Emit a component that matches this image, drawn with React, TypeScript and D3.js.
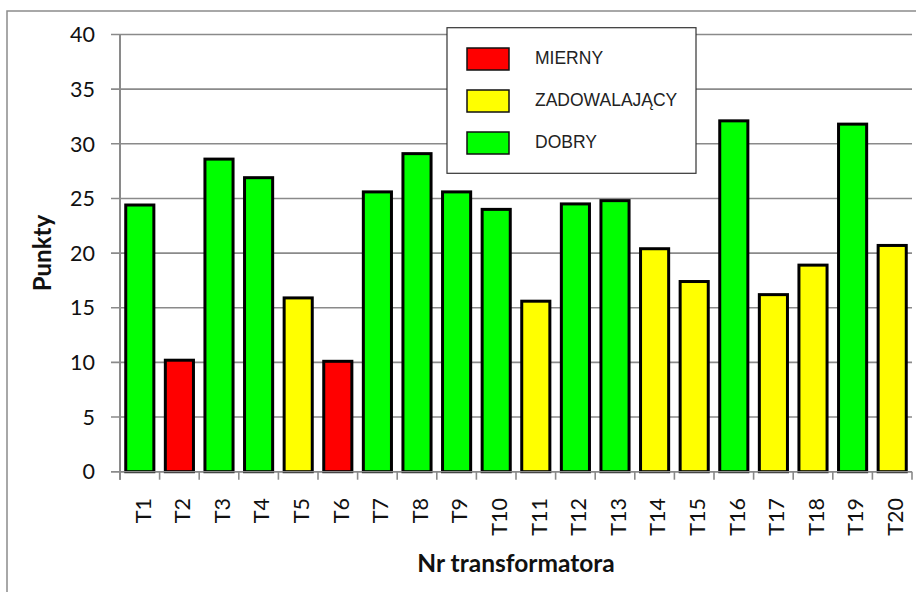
import React from "react";
import * as d3 from "d3";

// Transformer condition scores
const categories = ["T1","T2","T3","T4","T5","T6","T7","T8","T9","T10","T11","T12","T13","T14","T15","T16","T17","T18","T19","T20"];
const scores = [24.4, 10.2, 28.6, 26.9, 15.9, 10.1, 25.6, 29.1, 25.6, 24.0, 15.6, 24.5, 24.8, 20.4, 17.4, 32.1, 16.2, 18.9, 31.8, 20.7];
const grades = ["D","M","D","D","Z","M","D","D","D","D","Z","D","D","Z","Z","D","Z","Z","D","Z"];
const gradeKeys = ["M", "Z", "D"];
const gradeLabels = ["MIERNY", "ZADOWALAJĄCY", "DOBRY"];
const gradeColors = ["#ff0000", "#ffff00", "#00ff00"];
const yTicks = [0, 5, 10, 15, 20, 25, 30, 35, 40];

const W = 916;
const H = 592;
const plot = { left: 120, right: 912, top: 34.5, bottom: 471.7 };

export default function App() {
  const x = d3.scaleBand<string>().domain(categories).range([plot.left, plot.right]).padding(0);
  const y = d3.scaleLinear().domain([0, 40]).range([plot.bottom, plot.top]);
  const color = d3.scaleOrdinal<string, string>().domain(gradeKeys).range(gradeColors);
  const barW = x.bandwidth() * 0.71;
  const tickFont = "Lato, 'Open Sans', sans-serif";

  return (
    <svg width={W} height={H} style={{ position: "absolute", left: 0, top: 0, background: "#fff" }}>
      <rect x={0} y={0} width={W} height={H} fill="#fff" />
      {/* chart frame */}
      <rect x={7} y={11} width={W + 20} height={H + 20} fill="none" stroke="#8c8c8c" strokeWidth={1.5} />

      {/* gridlines and y ticks */}
      {yTicks.map((t) => (
        <g key={t}>
          <line x1={plot.left - 9} x2={plot.right} y1={y(t)} y2={y(t)} stroke="#8a8a8a" strokeWidth={1.6} />
          <text x={95} y={y(t)} dy="0.36em" textAnchor="end" fontFamily={tickFont} fontSize={21.5} fill="#111">
            {t}
          </text>
        </g>
      ))}

      {/* category ticks */}
      {categories.map((c) => (
        <line key={c} x1={x(c)!} x2={x(c)!} y1={plot.bottom} y2={plot.bottom + 8} stroke="#8a8a8a" strokeWidth={1.6} />
      ))}
      <line x1={plot.right} x2={plot.right} y1={plot.bottom} y2={plot.bottom + 8} stroke="#8a8a8a" strokeWidth={1.6} />

      {/* bars */}
      {categories.map((c, i) => {
        const cx = x(c)! + x.bandwidth() / 2;
        return (
          <rect
            key={c}
            x={cx - barW / 2}
            y={y(scores[i])}
            width={barW}
            height={y(0) - y(scores[i])}
            fill={color(grades[i])}
            stroke="#000"
            strokeWidth={3}
          />
        );
      })}

      {/* axes */}
      <line x1={plot.left} x2={plot.left} y1={plot.top} y2={plot.bottom + 8} stroke="#8a8a8a" strokeWidth={2} />
      <line x1={plot.left - 9} x2={plot.right} y1={plot.bottom} y2={plot.bottom} stroke="#8a8a8a" strokeWidth={1.6} />

      {/* x tick labels */}
      {categories.map((c) => {
        const cx = x(c)! + x.bandwidth() / 2 + 3;
        return (
          <text
            key={c}
            transform={`translate(${cx},498) rotate(-90)`}
            dy="0.36em"
            textAnchor="end"
            fontFamily={tickFont}
            fontSize={21.5}
            fill="#111"
          >
            {c}
          </text>
        );
      })}

      {/* axis titles */}
      <text x={(plot.left + plot.right) / 2} y={572} textAnchor="middle" fontFamily={tickFont} fontWeight="bold" fontSize={24.5} fill="#111">
        Nr transformatora
      </text>
      <text
        transform={`translate(51,${(plot.top + plot.bottom) / 2}) rotate(-90)`}
        textAnchor="middle"
        fontFamily={tickFont}
        fontWeight="bold"
        fontSize={24}
        fill="#111"
      >
        Punkty
      </text>

      {/* legend */}
      <g>
        <rect x={447} y={27.7} width={249} height={145.6} fill="#fff" stroke="#333" strokeWidth={1.2} />
        {gradeKeys.map((k, i) => (
          <g key={k} transform={`translate(0,${i * 42})`}>
            <rect x={467} y={48} width={42} height={22} fill={color(k)} stroke="#111" strokeWidth={1.5} />
            <text x={535} y={63.5} fontFamily="'Liberation Sans', Arial, sans-serif" fontSize={17.5} fill="#222">
              {gradeLabels[i]}
            </text>
          </g>
        ))}
      </g>
    </svg>
  );
}
